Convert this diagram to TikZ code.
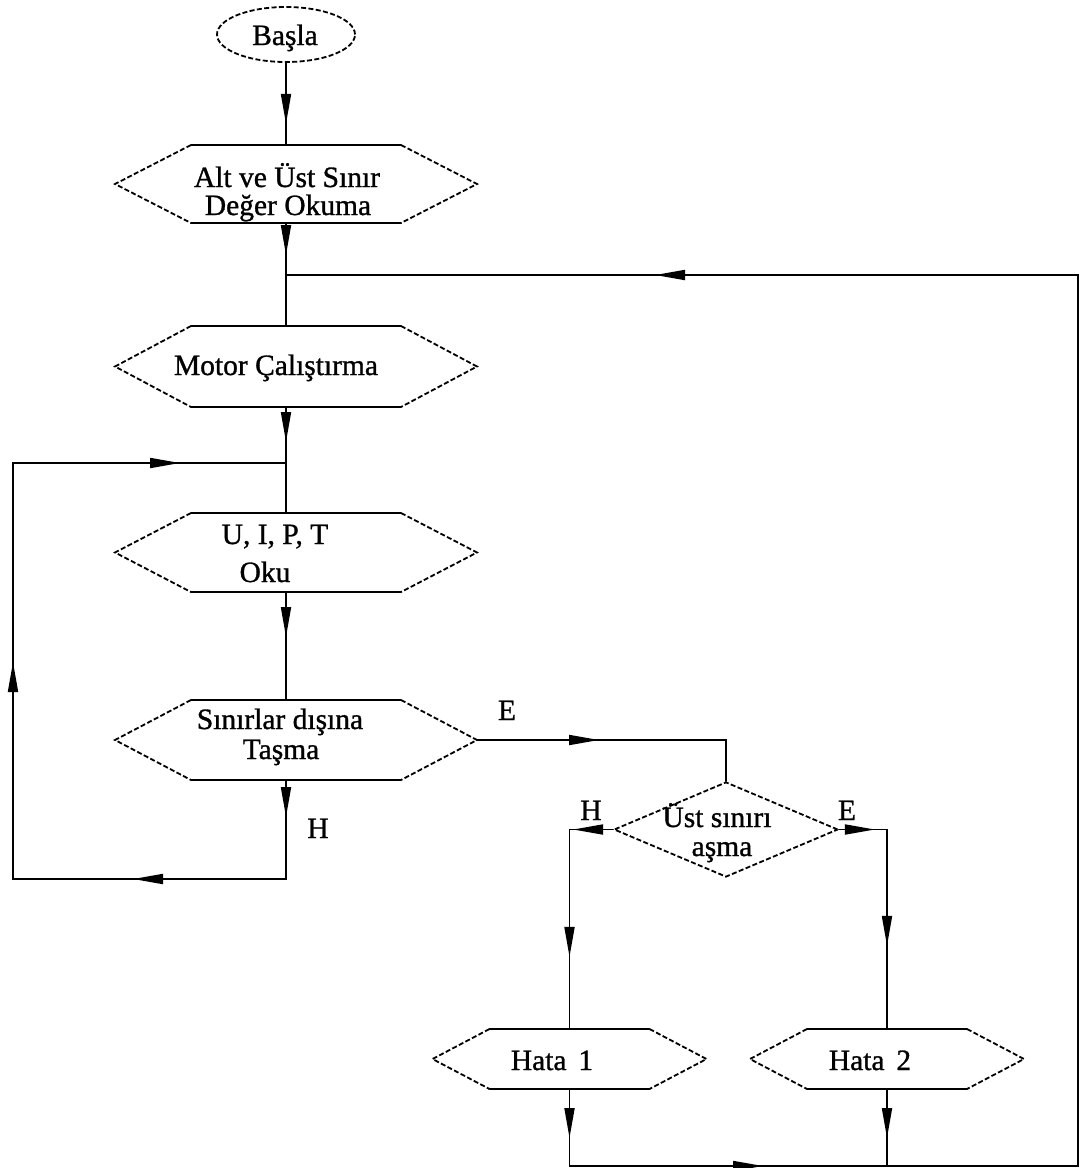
\documentclass[tikz,border=0pt]{standalone}
\usepackage{fontspec}
\setmainfont{Liberation Serif}
\newfontfamily\scanfont{Liberation Serif}[FakeBold=1]
\usetikzlibrary{arrows.meta,decorations.markings,calc,shapes.geometric}

\newcommand{\hexframe}[2]{%
  \draw[conn] (#1.north west) -- (#1.north east);
  \draw[conn] (#1.south west) -- (#1.south east);
  \draw[dsh] (#1.north east) -- ($(#1.east)+(#2,0)$) -- (#1.south east);
  \draw[dsh] (#1.north west) -- ($(#1.west)-(#2,0)$) -- (#1.south west);
}

\begin{document}
\begin{tikzpicture}[x=0.5pt,y=-0.5pt,
  conn/.style={line width=0.9pt, line cap=round},
  dsh/.style={draw, line width=0.9pt, dash pattern=on 2.5pt off 1.2pt},
  txt/.style={font=\scanfont\fontsize{14.75}{18}\selectfont, inner sep=0pt, anchor=base},
  core/.style={rectangle, inner sep=0pt, outer sep=0pt, draw=none},
  arrowat/.style={postaction={decorate, decoration={markings,
      mark=at position #1 with {\arrow{Triangle[length=15pt,width=5pt]}}}}}
]
\fill[white] (0,0) rectangle (1080,1168);
\useasboundingbox (0,0) rectangle (1080,1168);

% start
\node[ellipse, dsh, minimum width=69pt, minimum height=27.5pt, inner sep=0pt] (st) at (286,34.5) {};
\node[txt] (tst) at (285,45) {Başla};

% read limits
\node[core, minimum width=105pt, minimum height=39pt] (h1) at (296,184) {};
\hexframe{h1}{76}
\node[txt] (t1a) at (287,187) {Alt ve Üst Sınır};
\node[txt] (t1b) at (288,215) {Değer Okuma};

% motor
\node[core, minimum width=105pt, minimum height=40.5pt] (h2) at (296,366.5) {};
\hexframe{h2}{76}
\node[txt] (t2) at (276,375) {Motor Çalıştırma};

% read U I P T
\node[core, minimum width=105pt, minimum height=39.5pt] (h3) at (296,552.5) {};
\hexframe{h3}{76}
\node[txt] (t3a) at (275,544) {U, I, P, T};
\node[txt] (t3b) at (265,582) {Oku};

% out of limits
\node[core, minimum width=105pt, minimum height=40pt] (h4) at (296,740) {};
\hexframe{h4}{76}
\node[txt] (t4a) at (280,729) {Sınırlar dışına};
\node[txt] (t4b) at (281,759) {Taşma};

% decision
\node[diamond, dsh, minimum width=112pt, minimum height=47.5pt, inner sep=0pt] (dia) at (726,829.5) {};
\node[txt] (t5a) at (717,827) {Üst sınırı};
\node[txt] (t5b) at (722,856) {aşma};

% errors
\node[core, minimum width=80pt, minimum height=30pt] (ha1) at (569.5,1059) {};
\hexframe{ha1}{57}
\node[txt] (t6) at (552,1070) {Hata\hspace{0.4em}1};
\node[core, minimum width=80pt, minimum height=30pt] (ha2) at (887,1059) {};
\hexframe{ha2}{57}
\node[txt] (t7) at (870,1070) {Hata\hspace{0.4em}2};

% labels
\node[txt] (le1) at (507,720) {E};
\node[txt] (lh1) at (318,838) {H};
\node[txt] (lh2) at (591,820) {H};
\node[txt] (le2) at (847,820) {E};

% helper points
\coordinate (j1) at (286,275);
\coordinate (j2) at (286,463);
\coordinate (rtop) at (1078,275);
\coordinate (rbot) at (1078,1166);
\coordinate (lb) at (13,879);
\coordinate (lt) at (13,463);
\coordinate (h4r) at ($(h4.east)+(76,0)$);

% connectors
\draw[conn, arrowat=30.5pt] (st.south) -- (st.south |- h1.north);
\draw[conn, arrowat=16pt] (h1.south -| j1) -- (j1);
\draw[conn] (j1) -- (h2.north -| j1);
\draw[conn, arrowat=17.5pt] (h2.south -| j2) -- (j2);
\draw[conn] (j2) -- (h3.north -| j2);
\draw[conn, arrowat=22.5pt] (h3.south -| j2) -- (h4.north -| j2);
\draw[conn, arrowat=18.5pt, arrowat=126pt, arrowat=294.5pt, arrowat=477.5pt]
  (h4.south -| j2) -- (lb -| j2) -- (lb) -- (lt) -- (j2);
\draw[conn, arrowat=61pt] (h4r) -- (dia.north |- h4r) -- (dia.north);
\draw[conn, arrowat=20pt, arrowat=85.5pt] (dia.west) -- (ha1.north |- dia.west) -- (ha1.north);
\draw[conn, arrowat=18pt, arrowat=82.25pt] (dia.east) -- (ha2.north |- dia.east) -- (ha2.north);
\draw[conn, arrowat=24.5pt, arrowat=135.25pt, arrowat=949.75pt]
  (ha1.south) -- (ha1.south |- rbot) -- (rbot) -- (rtop) -- (j1);
\draw[conn, arrowat=24.5pt] (ha2.south) -- (ha2.south |- rbot);
\end{tikzpicture}
\end{document}
